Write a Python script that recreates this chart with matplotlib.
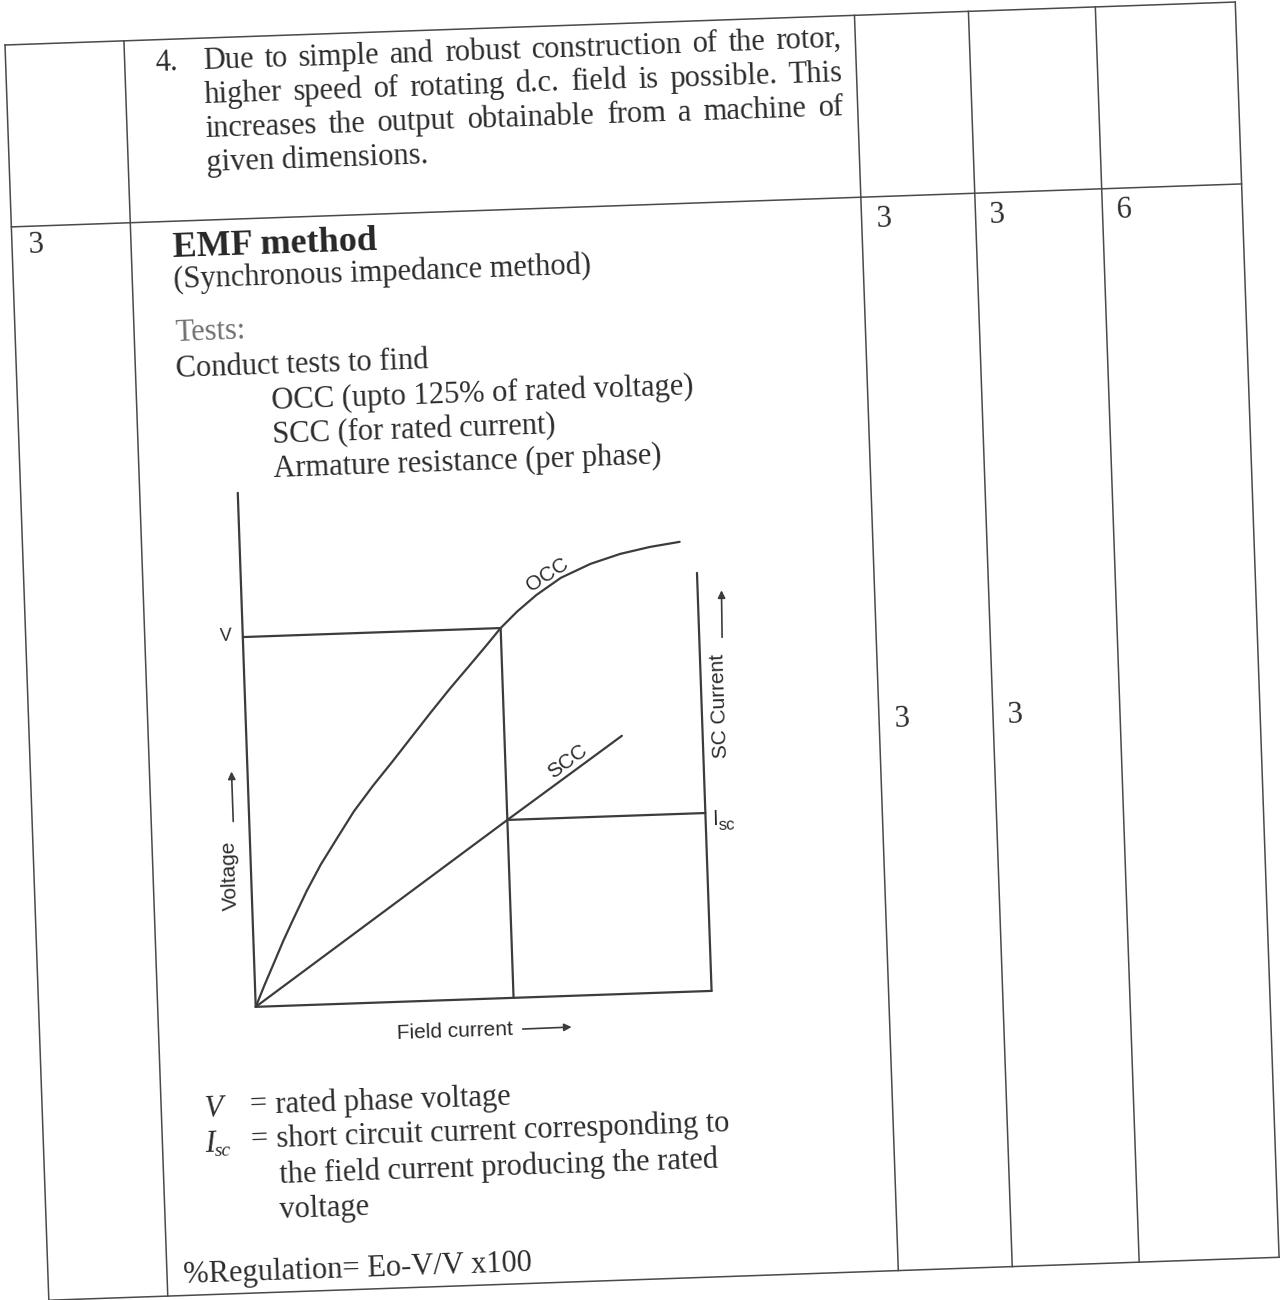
import numpy as np
import matplotlib.pyplot as plt
from matplotlib.transforms import Affine2D

# scanned answer-key page: EMF (synchronous impedance) method with OCC / SCC sketch

TILT = 2.0            # the scan is skewed by about 2 degrees
INK = '#2c2c2c'
RULE = '#4a4a4a'
SERIF = 'Liberation Serif'
SANS = 'Liberation Sans'

# table grid in page px, before the skew
col_edges = [0, 119, 850, 964, 1091, 1231]
row_edges = [0, 182, 1256]

# marks columns
marks_top = ['3', '3', '6']
marks_mid = ['3', '3']
marks_u = [865, 978, 1105]

# OCC / SCC (per unit of rated field current, rated voltage, Isc)
field_occ = [0.0, 0.039, 0.078, 0.116, 0.155, 0.213, 0.271, 0.341, 0.407, 0.484, 0.562,
             0.640, 0.717, 0.795, 0.872, 0.938, 1.0, 1.066, 1.143, 1.240, 1.357, 1.473,
             1.589, 1.705]
volt_occ = [0.0, 0.061, 0.119, 0.176, 0.230, 0.308, 0.378, 0.451, 0.519, 0.586, 0.649,
            0.714, 0.778, 0.841, 0.900, 0.951, 1.0, 1.043, 1.086, 1.130, 1.165, 1.189,
            1.205, 1.216]
field_scc = [0.0, 1.0, 1.455]
curr_scc = [0.0, 1.0, 1.45]
if_rated = 1.0
v_rated = 1.0
i_sc = 1.0
if_axis_end = 1.768
v_axis_top = 1.39
i_axis_top = 2.35

point4 = ['Due to simple and robust construction of the rotor,',
          'higher speed of rotating d.c. field is possible. This',
          'increases the output obtainable from a machine of',
          'given dimensions.']
tests = ['OCC (upto 125% of rated voltage)',
         'SCC (for rated current)',
         'Armature resistance (per phase)']

plt.rcParams['font.family'] = SERIF
fig = plt.figure(figsize=(12.83, 13.0), dpi=100)
ax = fig.add_axes([0, 0, 1, 1])
ax.set_xlim(0, 1283)
ax.set_ylim(1300, 0)
ax.axis('off')

c, s = np.cos(np.radians(TILT)), np.sin(np.radians(TILT))
page = Affine2D(np.array([[c, s, 5.0], [-s, c, 45.0], [0, 0, 1]])) + ax.transData


def put(u, v, txt, size=22, rot=0, ha='left', va='baseline', tr=None, **kw):
    kw.setdefault('color', INK)
    return ax.text(u, v, txt, transform=tr or page, fontsize=size, rotation=TILT + rot,
                   rotation_mode='anchor', ha=ha, va=va, **kw)


renderer = fig.canvas.get_renderer()


def width(txt, size=22):
    t = ax.text(0, 0, txt, fontsize=size)
    w = t.get_window_extent(renderer).width
    t.remove()
    return w


# table rules
for u in col_edges:
    ax.plot([u, u], [row_edges[0], row_edges[-1]], transform=page, color=RULE, lw=1.1)
for v in row_edges:
    ax.plot([col_edges[0], col_edges[-1]], [v, v], transform=page, color=RULE, lw=1.1)

# row 1, point 4 (justified)
put(149, 31, '4.')
left, right = 197, 836
for i, line in enumerate(point4):
    v = 31 + 34 * i
    words = line.split()
    if i == len(point4) - 1:
        put(left, v, line)
        continue
    ws = [width(w) for w in words]
    gap = (right - left - sum(ws)) / (len(words) - 1)
    u = left
    for w, wd in zip(words, ws):
        put(u, v, w)
        u += wd + gap

# row 2
put(16, 209, '3')
for m, u in zip(marks_top, marks_u):
    put(u, 212, m)
for m, u in zip(marks_mid, marks_u):
    put(u, 713, m)

put(160, 218, 'EMF method', size=26, fontweight='bold', color='#262626')
put(160, 249, '(Synchronous impedance method)')
put(160, 302, 'Tests:', color='#707070')
put(159, 338, 'Conduct tests to find')
for i, t in enumerate(tests):
    put(254, 373 + 34 * i, t)

# sketch
volt_tr = Affine2D().scale(258, -370).translate(217, 970) + page
curr_tr = Affine2D().scale(258, -178).translate(217, 970) + page
sketch = Affine2D().scale(1, -1).translate(217, 970) + page
lk = dict(color='#3c3c3c', lw=1.6, solid_joinstyle='round', solid_capstyle='round')

ax.plot([0, 0], [0, v_axis_top], transform=volt_tr, **lk)
ax.plot([0, if_axis_end], [0, 0], transform=volt_tr, **lk)
ax.plot([if_axis_end, if_axis_end], [0, i_axis_top], transform=curr_tr, **lk)
ax.plot(field_occ, volt_occ, transform=volt_tr, **lk)
ax.plot([0, if_rated, if_rated], [v_rated, v_rated, 0], transform=volt_tr, **lk)
ax.plot(field_scc, curr_scc, transform=curr_tr, **lk)
ax.plot([if_rated, if_axis_end], [i_sc, i_sc], transform=curr_tr, **lk)

put(-17, 371, 'V', size=13, ha='center', va='center', tr=sketch, family=SANS)
put(307, 422, 'OCC', size=15, rot=31, ha='center', va='center', tr=sketch, family=SANS)
put(320, 234, 'SCC', size=15, rot=34.4, ha='center', va='center', tr=sketch, family=SANS)
put(463, 166, 'I', size=16, tr=sketch, family=SANS)
put(469, 161, 'sc', size=12, tr=sketch, family=SANS)
put(-21, 132, 'Voltage', size=15, rot=90, ha='center', va='center', tr=sketch, family=SANS)
put(474, 284, 'SC Current', size=15, rot=90, ha='center', va='center', tr=sketch, family=SANS)
put(198, -32, 'Field current', size=15, ha='center', va='center', tr=sketch, family=SANS)

ak = dict(arrowstyle='-|>', color='#3c3c3c', lw=1.2, mutation_scale=11, shrinkA=0, shrinkB=0)
for tail, head in [((-16, 186), (-16, 236)), ((479, 353), (480, 400)), ((266, -31.5), (315, -31.2))]:
    ax.annotate('', xy=head, xytext=tail, xycoords=sketch, textcoords=sketch, arrowprops=ak)

# notes under the sketch
put(162, 1078, 'V', style='italic')
put(207, 1076, '=')
put(233, 1077, 'rated phase voltage')
put(161, 1113, 'I', style='italic')
put(171, 1118, 'sc', size=14, style='italic')
put(207, 1111, '=')
put(233, 1111, 'short circuit current corresponding to')
put(235, 1147, 'the field current producing the rated')
put(234, 1182, 'voltage')
put(135, 1243, '%Regulation= Eo-V/V x100')

fig.savefig('out.png', dpi=100, facecolor='white')
